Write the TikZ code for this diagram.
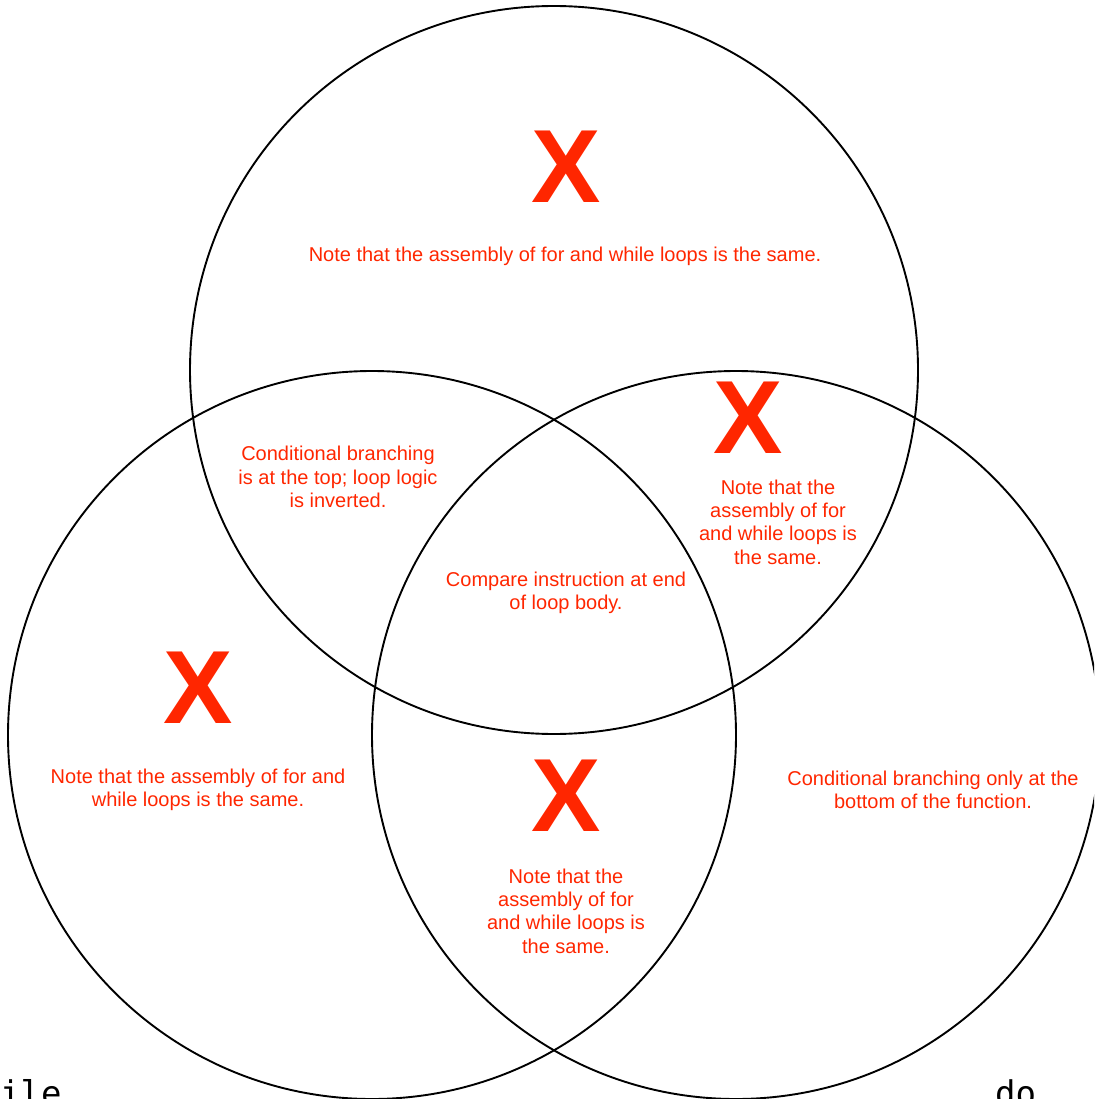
\documentclass[tikz,border=0pt]{standalone}
\usepackage{xcolor}
\usepackage{fontspec}
\setmainfont{Liberation Sans}
\newfontfamily\monofont{DejaVu Sans Mono}
\usepackage{tikz}
\definecolor{xred}{RGB}{255,38,0}

\begin{document}
\begin{tikzpicture}[x=1pt,y=-1pt,
  note/.style={text=xred, align=center, inner sep=0pt, font=\fontsize{20}{23.3}\selectfont},
  bigx/.style={text=xred, inner sep=0pt, font=\fontsize{104}{104}\selectfont\bfseries},
  lbl/.style={anchor=base west, inner sep=0pt, font=\monofont\fontsize{34}{34}\selectfont}]
\useasboundingbox (0,0) rectangle (1094,1099);
\clip (0,0) rectangle (1094,1099);
%\draw[step=50,lightgray,thin] (0,0) grid (1094,1099);
\coordinate (top) at (554,370);
\coordinate (left) at (372,735);
\coordinate (right) at (736,735);

\draw[line width=1.9pt, black] (top) circle (364);
\draw[line width=1.9pt, black] (left) circle (364);
\draw[line width=1.9pt, black] (right) circle (364);

% the crosses
\node[bigx] (X1) at (566,167) {X};
\node[bigx] (X2) at (748,418) {X};
\node[bigx] (X3) at (198,688) {X};
\node[bigx] (X4) at (566,796) {X};

\node[note] (T) at (565,256) {Note that the assembly of for and while loops is the same.};
\node[note] (TL) at (338,477) {Conditional branching\\is at the top; loop logic\\is inverted.};
\node[note] (TR) at (778,522) {Note that the\\assembly of for\\and while loops is\\the same.};
\node[note] (C) at (566,593) {Compare instruction at end\\of loop body.};
\node[note] (L) at (198,790) {Note that the assembly of for and\\while loops is the same.};
\node[note] (B) at (566,911) {Note that the\\assembly of for\\and while loops is\\the same.};
\node[note] (R) at (933,790) {Conditional branching only at the\\bottom of the function.};

% set names, cut off at the edge
\node[lbl] (while) at (-41,1105) {while};
\node[lbl] (do) at (995,1105) {do};
\end{tikzpicture}
\end{document}
